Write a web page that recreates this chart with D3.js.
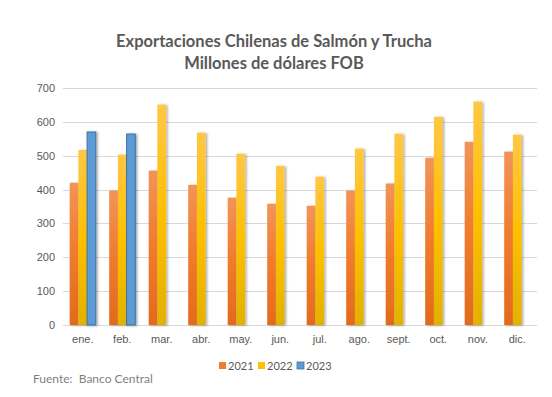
<!DOCTYPE html>
<html>
<head>
<meta charset="utf-8">
<script src="https://cdn.jsdelivr.net/npm/d3@7"></script>
<style>
  body { margin: 0; background: #fff; }
  svg { font-family: Lato, "Open Sans", sans-serif; }
</style>
</head>
<body>
<div id="chart"></div>
<script>
// chart data
const months = ["ene.", "feb.", "mar.", "abr.", "may.", "jun.", "jul.", "ago.", "sept.", "oct.", "nov.", "dic."];
const years = ["2021", "2022", "2023"];
const values2021 = [420, 397, 456, 414, 376, 358, 352, 397, 418, 494, 541, 512];
const values2022 = [517, 503, 651, 568, 506, 470, 438, 521, 565, 615, 660, 562];
const values2023 = [570, 564];
const yTicks = [0, 100, 200, 300, 400, 500, 600, 700];

const width = 552, height = 397;
const margin = { top: 88, right: 15, bottom: 72, left: 63 };

const svg = d3.select("#chart").append("svg")
  .attr("width", width)
  .attr("height", height);

// gradients and shadow
const defs = svg.append("defs");
const grads = [
  { id: "g2021", stops: ["#F29459", "#F07B2B", "#E36A1C"] },
  { id: "g2022", stops: ["#FFC745", "#FFC000", "#E2B100"] },
  { id: "g2023", stops: ["#5B9BD5", "#5B9BD5", "#5B9BD5"] }
];
grads.forEach((g) => {
  const lg = defs.append("linearGradient").attr("id", g.id)
    .attr("x1", 0).attr("y1", 0).attr("x2", 0).attr("y2", 1);
  lg.append("stop").attr("offset", "0%").attr("stop-color", g.stops[0]);
  lg.append("stop").attr("offset", "50%").attr("stop-color", g.stops[1]);
  lg.append("stop").attr("offset", "100%").attr("stop-color", g.stops[2]);
});
const shadow = defs.append("filter").attr("id", "shadow")
  .attr("x", "-50%").attr("y", "-10%").attr("width", "200%").attr("height", "120%");
shadow.append("feDropShadow")
  .attr("dx", 1.5).attr("dy", 0.5).attr("stdDeviation", 1)
  .attr("flood-color", "#000").attr("flood-opacity", 0.35);

const x = d3.scaleBand()
  .domain(months)
  .range([margin.left, width - margin.right])
  .paddingInner(0.34)
  .paddingOuter(0.17);

const xSub = d3.scaleBand()
  .domain(years)
  .range([0, x.bandwidth()]);

const y = d3.scaleLinear()
  .domain([0, 700])
  .range([height - margin.bottom, margin.top]);

// gridlines
svg.append("g")
  .selectAll("line")
  .data(yTicks)
  .enter().append("line")
  .attr("x1", margin.left)
  .attr("x2", width - margin.right)
  .attr("y1", (d) => Math.round(y(d)) + 0.5)
  .attr("y2", (d) => Math.round(y(d)) + 0.5)
  .attr("stroke", "#D9D9D9")
  .attr("stroke-width", 1);

// y axis labels
const yAxis = svg.append("g")
  .attr("transform", `translate(${margin.left - 8},0)`)
  .call(d3.axisLeft(y).tickValues(yTicks).tickSize(0).tickPadding(0));
yAxis.select(".domain").remove();
yAxis.selectAll("text")
  .attr("fill", "#595959")
  .style("font-size", "11px");

// bars
const series = [
  { year: "2021", values: values2021 },
  { year: "2022", values: values2022 },
  { year: "2023", values: values2023 }
];

series.forEach((s) => {
  svg.append("g")
    .selectAll("rect")
    .data(s.values.map((v, i) => ({ month: months[i], value: v })))
    .enter().append("rect")
    .attr("x", (d) => x(d.month) + xSub(s.year))
    .attr("y", (d) => y(d.value))
    .attr("width", xSub.bandwidth())
    .attr("height", (d) => y(0) - y(d.value))
    .attr("fill", `url(#g${s.year})`)
    .attr("stroke", s.year === "2023" ? "#41719C" : "none")
    .attr("stroke-width", s.year === "2023" ? 1 : 0)
    .attr("filter", "url(#shadow)");
});

// x axis labels
const xAxis = svg.append("g")
  .attr("transform", `translate(0,${y(0) + 10})`)
  .call(d3.axisBottom(x).tickSize(0).tickPadding(0));
xAxis.select(".domain").remove();
xAxis.selectAll("text")
  .attr("fill", "#595959")
  .style("font-size", "11px");

// title
const title = svg.append("text")
  .attr("x", 274)
  .attr("text-anchor", "middle")
  .attr("fill", "#595959")
  .style("font-size", "16.5px")
  .style("font-weight", "bold");
title.append("tspan").attr("x", 274).attr("y", 47).text("Exportaciones Chilenas de Salmón y Trucha");
title.append("tspan").attr("x", 274).attr("y", 69).text("Millones de dólares FOB");

// legend
const legendColors = { "2021": "#ED7D31", "2022": "#FFC000", "2023": "#5B9BD5" };
const legendX = [219, 258, 297];
const legend = svg.append("g");
years.forEach((yr, i) => {
  legend.append("rect")
    .attr("x", legendX[i])
    .attr("y", 362)
    .attr("width", 7)
    .attr("height", 7)
    .attr("fill", legendColors[yr])
    .attr("stroke", yr === "2023" ? "#41719C" : "none")
    .attr("stroke-width", 0.8);
  legend.append("text")
    .attr("x", legendX[i] + 9)
    .attr("y", 370)
    .attr("fill", "#595959")
    .style("font-size", "11px")
    .text(yr);
});

// source note
svg.append("text")
  .attr("x", 33)
  .attr("y", 383)
  .attr("fill", "#7F7F7F")
  .style("font-size", "12px")
  .attr("xml:space", "preserve")
  .text("Fuente:  Banco Central");
</script>
</body>
</html>
